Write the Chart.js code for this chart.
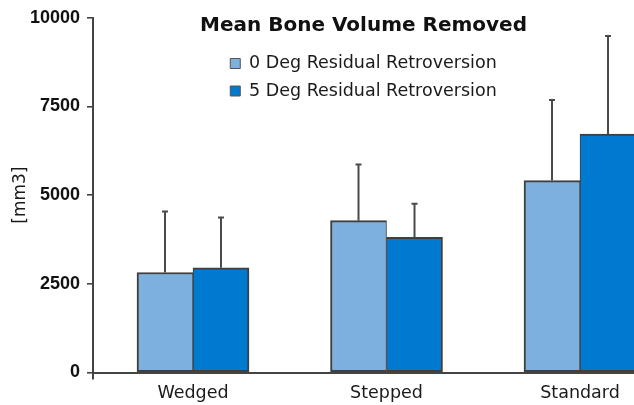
<!DOCTYPE html>
<html>
<head>
<meta charset="utf-8">
<script src="https://cdn.jsdelivr.net/npm/chart.js@4"></script>
<style>
  html, body { margin: 0; padding: 0; background: #fff; overflow: hidden; }
  #wrap { position: relative; width: 634px; height: 405px; }
</style>
</head>
<body>
<div id="wrap"><canvas id="c"></canvas></div>
<script>
// ---- data ----
const categories = ['Wedged', 'Stepped', 'Standard'];
const seriesNames = ['0 Deg Residual Retroversion', '5 Deg Residual Retroversion'];
const mean0deg = [2820, 4280, 5410];
const mean5deg = [2950, 3810, 6720];
const sd0deg = [1720, 1585, 2275];
const sd5deg = [1420, 945, 2770];
const yTicks = [0, 2500, 5000, 7500, 10000];
const chartTitle = 'Mean Bone Volume Removed';
const yTitle = '[mm3]';

const X_MIN = -0.5168, X_MAX = 2.279;

Chart.defaults.font.family = 'DejaVu Sans';
Chart.defaults.color = '#1a1a1a';

const toPoints = arr => arr.map((v, i) => ({ x: i, y: v }));

const errorBars = {
  id: 'errorBars',
  afterDatasetsDraw(chart) {
    const ctx = chart.ctx, ys = chart.scales.y;
    chart.data.datasets.forEach((ds, di) => {
      const meta = chart.getDatasetMeta(di);
      meta.data.forEach((bar, i) => {
        const top = ys.getPixelForValue(ds.data[i].y + ds.errors[i]);
        ctx.save();
        ctx.strokeStyle = '#4a4a4a';
        ctx.lineWidth = 2;
        ctx.beginPath();
        ctx.moveTo(bar.x, bar.y);
        ctx.lineTo(bar.x, top);
        ctx.moveTo(bar.x - 3, top);
        ctx.lineTo(bar.x + 3, top);
        ctx.stroke();
        ctx.restore();
      });
    });
  }
};

// title and legend sit inside the plot area, as in the reference
const placeOverlay = {
  id: 'placeOverlay',
  afterLayout(chart) {
    const ca = chart.chartArea;
    const tb = chart.titleBlock;
    if (tb) {
      const th = tb.height;
      tb.top = 26 - th / 2;
      tb.bottom = tb.top + th;
      tb.left = ca.left; tb.right = ca.right; tb.width = ca.right - ca.left;
    }
    const lg = chart.legend;
    if (lg) {
      const w = lg.width, h = lg.height;
      lg.left = (ca.left + ca.right) / 2 - w / 2;
      lg.right = lg.left + w;
      lg.top = 44.75;
      lg.bottom = lg.top + h;
    }
  }
};

new Chart(document.getElementById('c'), {
  type: 'bar',
  data: {
    datasets: [
      {
        label: seriesNames[0],
        data: toPoints(mean0deg),
        errors: sd0deg,
        backgroundColor: '#7EB0DE',
        borderColor: '#3f3f3f',
        borderWidth: { left: 2, top: 2, right: 1, bottom: 2 },
        borderSkipped: false
      },
      {
        label: seriesNames[1],
        data: toPoints(mean5deg),
        errors: sd5deg,
        backgroundColor: '#0079D1',
        borderColor: '#3f3f3f',
        borderWidth: { left: 1, top: 2, right: 2, bottom: 2 },
        borderSkipped: false
      }
    ]
  },
  options: {
    responsive: true,
    maintainAspectRatio: false,
    animation: false,
    barThickness: 56,
    layout: { padding: { top: 0, left: 0, right: 0, bottom: 0 } },
    scales: {
      x: {
        type: 'linear',
        offset: false,
        min: X_MIN,
        max: X_MAX,
        afterBuildTicks(scale) {
          scale.ticks = [{ value: X_MIN }].concat(categories.map((c, i) => ({ value: i })));
        },
        afterFit(scale) { scale.height = 32.5; },
        grid: {
          offset: false,
          drawOnChartArea: false,
          drawTicks: true,
          tickLength: 7,
          lineWidth: 2,
          color: (ctx) => (ctx.tick && ctx.tick.value === X_MIN) ? '#444' : 'rgba(0,0,0,0)'
        },
        border: { display: true, color: '#444', width: 2 },
        ticks: {
          autoSkip: false,
          maxRotation: 0,
          padding: 3,
          font: { size: 17.5 },
          color: '#1a1a1a',
          callback: (v) => Number.isInteger(v) ? categories[v] : ''
        }
      },
      y: {
        min: 0,
        max: 10000,
        afterBuildTicks(scale) { scale.ticks = yTicks.map(v => ({ value: v })); },
        afterFit(scale) { scale.width = 93; },
        grid: {
          drawOnChartArea: false,
          drawTicks: true,
          tickLength: 6,
          lineWidth: 1.6,
          color: '#444'
        },
        border: { display: true, color: '#444', width: 2 },
        ticks: {
          padding: 7,
          font: { family: 'Liberation Sans', size: 18, weight: 'bold' },
          color: '#111',
          callback: (v) => String(v)
        },
        title: {
          display: true,
          text: yTitle,
          font: { size: 17 },
          color: '#1a1a1a',
          padding: { top: 10, bottom: 0 }
        }
      }
    },
    plugins: {
      tooltip: { enabled: false },
      title: {
        display: true,
        text: chartTitle,
        color: '#111',
        font: { size: 20, weight: 'bold', lineHeight: 0.875 },
        padding: 0
      },
      legend: {
        display: true,
        position: 'chartArea',
        align: 'start',
        labels: {
          boxWidth: 10,
          boxHeight: 10,
          padding: 10,
          color: '#1a1a1a',
          font: { size: 17.5 },
          generateLabels: (chart) => Chart.defaults.plugins.legend.labels.generateLabels(chart)
            .map(l => Object.assign({}, l, { lineWidth: 1, strokeStyle: '#555' }))
        }
      }
    }
  },
  plugins: [errorBars, placeOverlay]
});
</script>
</body>
</html>
